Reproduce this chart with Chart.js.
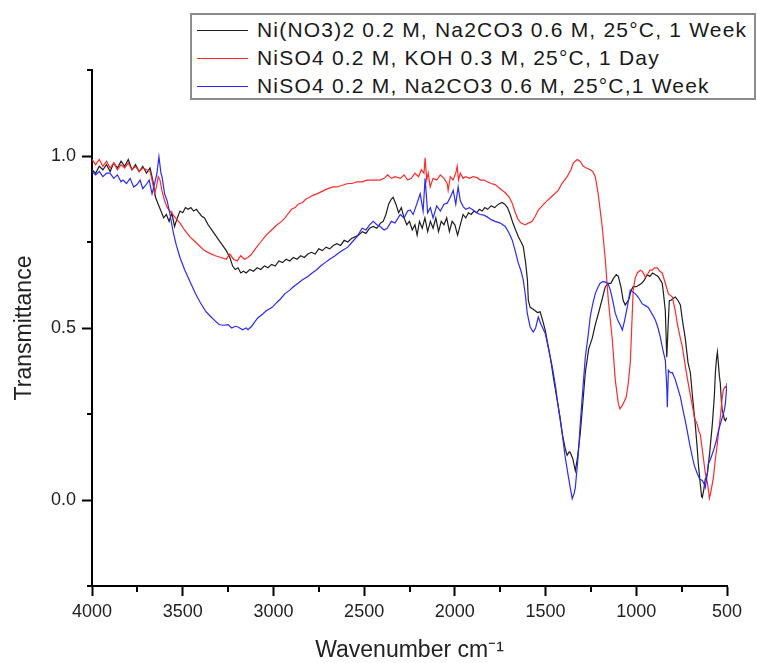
<!DOCTYPE html>
<html>
<head>
<meta charset="utf-8">
<script src="https://cdn.jsdelivr.net/npm/chart.js@4.4.1/dist/chart.umd.min.js"></script>
<style>
  body { margin: 0; background: #fff; }
  #wrap { position: relative; width: 757px; height: 663px; }
  #legend {
    position: absolute; left: 190px; top: 13px; width: 566px; height: 87px;
    box-sizing: border-box; border: 2px solid #8c8c8c; background: #fff;
    font-family: "Liberation Sans", Arial, sans-serif; font-size: 21px; color: #1a1a1a;
  }
  .row { position: absolute; left: 0; height: 28px; line-height: 28px; white-space: nowrap; }
  .swatch { position: absolute; left: 5px; top: 14px; width: 51px; border-top: 1.5px solid; }
  .txt { position: absolute; left: 65px; top: 0; letter-spacing: 1.2px; }
</style>
</head>
<body>
<div id="wrap">
  <canvas id="c" width="757" height="663"></canvas>
  <div id="legend"></div>
</div>
<script>
// Ni(NO3)2 0.2 M, Na2CO3 0.6 M, 25°C, 1 Week
const blackWn = [4000,3980,3960,3940,3920,3900,3880,3860,3840,3820,3800,3780,3760,3740,3720,3700,3680,3665,3650,3635,
  3620,3605,3590,3575,3560,3545,3530,3515,3500,3485,3470,3455,3440,3425,3410,3395,3380,3360,3340,3320,
  3300,3280,3260,3240,3225,3210,3195,3180,3165,3150,3130,3110,3090,3070,3050,3030,3010,2990,2970,2950,
  2930,2910,2890,2870,2850,2830,2810,2790,2770,2750,2730,2710,2690,2670,2650,2630,2610,2590,2570,2550,
  2530,2510,2490,2470,2450,2430,2410,2395,2380,2365,2350,2340,2325,2310,2295,2280,2265,2250,2235,2220,
  2208,2195,2180,2165,2150,2135,2120,2105,2090,2075,2060,2045,2030,2015,2000,1985,1970,1955,1940,1925,
  1910,1895,1880,1865,1850,1835,1820,1800,1780,1760,1740,1725,1710,1695,1680,1665,1650,1635,1623,1610,
  1600,1595,1585,1570,1557,1545,1530,1515,1502,1490,1474,1455,1436,1420,1408,1392,1381,1370,1364,1350,
  1336,1325,1309,1295,1281,1262,1243,1226,1210,1190,1171,1154,1140,1125,1110,1099,1085,1072,1061,1050,
  1040,1028,1017,1000,985,970,955,940,925,910,895,880,868,857,850,840,832,825,818,810,
  800,785,770,757,745,730,715,702,690,675,664,658,648,640,636,628,620,608,595,581,
  570,564,558,553,548,542,537,530,526,520,515,509,500];
const blackT = [0.96,0.95,0.97,0.96,0.975,0.955,0.98,0.965,0.985,0.97,0.99,0.96,0.975,0.955,0.97,0.95,0.965,0.93,0.88,0.86,
  0.84,0.82,0.83,0.81,0.835,0.795,0.82,0.84,0.835,0.85,0.845,0.85,0.84,0.845,0.835,0.825,0.82,0.80,0.785,0.77,
  0.755,0.74,0.725,0.705,0.68,0.67,0.675,0.66,0.665,0.66,0.67,0.665,0.675,0.67,0.68,0.675,0.685,0.68,0.695,0.69,
  0.70,0.695,0.705,0.70,0.71,0.705,0.715,0.72,0.715,0.73,0.725,0.735,0.73,0.74,0.745,0.74,0.755,0.75,0.76,0.765,
  0.77,0.78,0.775,0.79,0.795,0.79,0.805,0.81,0.83,0.86,0.875,0.88,0.86,0.835,0.85,0.82,0.80,0.81,0.785,0.80,
  0.77,0.81,0.79,0.82,0.78,0.81,0.79,0.82,0.78,0.81,0.80,0.82,0.78,0.81,0.80,0.77,0.80,0.83,0.82,0.835,
  0.83,0.84,0.835,0.845,0.84,0.85,0.845,0.855,0.85,0.86,0.865,0.86,0.85,0.83,0.805,0.785,0.765,0.75,0.737,0.69,
  0.64,0.58,0.56,0.555,0.55,0.545,0.547,0.52,0.494,0.46,0.415,0.35,0.29,0.24,0.193,0.15,0.13,0.14,0.138,0.12,
  0.085,0.12,0.193,0.28,0.37,0.44,0.47,0.51,0.54,0.58,0.62,0.63,0.63,0.645,0.655,0.65,0.62,0.58,0.567,0.575,
  0.585,0.61,0.62,0.62,0.625,0.63,0.64,0.655,0.65,0.66,0.655,0.65,0.64,0.63,0.60,0.55,0.415,0.50,0.58,0.58,
  0.585,0.59,0.58,0.567,0.52,0.47,0.40,0.37,0.30,0.22,0.15,0.105,0.05,0.01,0.007,0.03,0.06,0.077,0.14,0.22,
  0.30,0.37,0.41,0.43,0.40,0.36,0.34,0.28,0.26,0.25,0.235,0.23,0.24];

// NiSO4 0.2 M, KOH 0.3 M, 25°C, 1 Day
const redWn = [4000,3980,3960,3940,3920,3900,3880,3860,3840,3820,3800,3780,3760,3740,3720,3700,3680,3665,3655,3645,
  3635,3625,3615,3600,3585,3570,3555,3540,3515,3490,3460,3430,3404,3380,3350,3320,3290,3260,3240,3220,
  3200,3180,3160,3140,3120,3100,3070,3040,3010,2980,2955,2936,2915,2900,2880,2864,2840,2820,2800,2787,
  2760,2740,2720,2700,2671,2650,2620,2590,2566,2540,2510,2484,2450,2412,2390,2370,2350,2330,2300,2280,
  2260,2240,2220,2200,2185,2170,2164,2155,2147,2136,2120,2100,2080,2060,2042,2037,2025,2010,1995,1987,
  1980,1970,1955,1940,1920,1899,1877,1860,1840,1822,1800,1778,1750,1722,1700,1684,1670,1651,1635,1612,
  1595,1574,1557,1540,1510,1485,1460,1430,1410,1381,1360,1347,1325,1310,1292,1275,1254,1240,1226,1210,
  1188,1171,1154,1132,1116,1099,1090,1077,1072,1055,1044,1033,1028,1017,1006,994,978,967,950,939,
  925,912,900,884,870,857,840,823,801,785,774,757,746,730,714,700,686,680,672,664,
  655,647,631,620,608,600,597,590,575,564,553,537,526,520,510,500];
const redT = [0.99,0.975,0.99,0.97,0.985,0.965,0.98,0.96,0.975,0.965,0.98,0.96,0.97,0.955,0.965,0.96,0.955,0.92,0.89,0.91,
  0.94,0.93,0.90,0.87,0.85,0.84,0.83,0.82,0.805,0.785,0.765,0.75,0.737,0.725,0.717,0.71,0.705,0.70,0.715,0.70,
  0.695,0.71,0.70,0.705,0.715,0.73,0.75,0.77,0.785,0.80,0.81,0.82,0.835,0.845,0.85,0.86,0.865,0.875,0.88,0.885,
  0.89,0.895,0.90,0.905,0.91,0.91,0.915,0.92,0.92,0.925,0.925,0.93,0.93,0.93,0.935,0.945,0.935,0.94,0.935,0.945,
  0.93,0.935,0.95,0.94,0.96,0.95,0.995,0.93,0.95,0.91,0.935,0.93,0.945,0.935,0.92,0.90,0.94,0.93,0.95,0.97,
  0.93,0.95,0.935,0.94,0.935,0.94,0.937,0.93,0.93,0.925,0.92,0.917,0.905,0.893,0.88,0.863,0.84,0.815,0.805,0.80,
  0.805,0.81,0.825,0.843,0.86,0.873,0.885,0.90,0.92,0.94,0.96,0.98,0.99,0.985,0.97,0.965,0.96,0.955,0.94,0.89,
  0.795,0.70,0.58,0.465,0.35,0.28,0.265,0.275,0.28,0.30,0.34,0.40,0.465,0.61,0.645,0.66,0.668,0.665,0.648,0.655,
  0.668,0.668,0.675,0.675,0.665,0.66,0.63,0.60,0.59,0.55,0.513,0.47,0.445,0.39,0.34,0.30,0.26,0.24,0.23,0.22,
  0.20,0.19,0.125,0.08,0.05,0.02,0.005,0.02,0.065,0.12,0.165,0.24,0.30,0.32,0.33,0.325];

// NiSO4 0.2 M, Na2CO3 0.6 M, 25°C, 1 Week
const blueWn = [4000,3980,3960,3940,3920,3901,3880,3860,3840,3829,3810,3790,3770,3752,3735,3720,3697,3685,3669,3655,
  3642,3631,3620,3614,3600,3586,3570,3553,3535,3515,3490,3460,3430,3404,3375,3349,3320,3300,3278,3250,
  3230,3210,3195,3170,3150,3140,3120,3100,3085,3060,3040,3007,2980,2960,2936,2910,2890,2864,2840,2810,
  2787,2760,2740,2715,2690,2660,2643,2620,2590,2566,2540,2511,2490,2470,2450,2430,2412,2390,2373,2350,
  2330,2301,2280,2260,2246,2230,2210,2191,2175,2164,2150,2135,2120,2100,2080,2060,2042,2025,2009,1995,
  1982,1970,1954,1940,1920,1899,1880,1860,1840,1822,1800,1778,1750,1722,1700,1684,1665,1651,1635,1623,
  1610,1601,1585,1568,1555,1540,1525,1502,1480,1463,1445,1430,1410,1392,1375,1364,1353,1342,1336,1320,
  1309,1295,1281,1265,1254,1240,1226,1210,1199,1185,1171,1155,1143,1130,1116,1100,1085,1077,1065,1050,
  1033,1020,1006,990,967,950,934,912,895,880,868,855,840,832,829,823,812,801,785,774,
  757,746,730,719,705,691,680,664,650,636,625,620,610,603,590,575,560,548,537,526,
  515,509,500];
const blueT = [0.955,0.945,0.955,0.94,0.95,0.95,0.935,0.945,0.925,0.93,0.92,0.935,0.91,0.917,0.93,0.905,0.92,0.93,0.89,0.92,
  0.95,0.998,0.95,0.94,0.89,0.87,0.83,0.78,0.74,0.705,0.67,0.635,0.60,0.575,0.55,0.535,0.52,0.51,0.508,0.51,
  0.50,0.505,0.503,0.495,0.50,0.495,0.505,0.52,0.53,0.54,0.55,0.56,0.575,0.585,0.60,0.61,0.62,0.63,0.64,0.65,
  0.66,0.67,0.68,0.69,0.70,0.71,0.717,0.725,0.735,0.75,0.765,0.79,0.785,0.80,0.81,0.80,0.795,0.785,0.79,0.81,
  0.805,0.83,0.82,0.84,0.843,0.83,0.86,0.89,0.84,0.935,0.835,0.85,0.82,0.855,0.84,0.86,0.863,0.88,0.90,0.86,
  0.91,0.87,0.853,0.845,0.85,0.843,0.835,0.83,0.828,0.823,0.815,0.81,0.805,0.795,0.775,0.756,0.72,0.69,0.665,0.64,
  0.59,0.543,0.503,0.488,0.50,0.532,0.51,0.485,0.43,0.387,0.33,0.27,0.20,0.125,0.07,0.036,0.004,0.02,0.036,0.13,
  0.22,0.32,0.415,0.48,0.532,0.57,0.60,0.62,0.63,0.635,0.634,0.628,0.61,0.58,0.543,0.52,0.505,0.494,0.52,0.56,
  0.61,0.605,0.60,0.59,0.57,0.565,0.56,0.54,0.523,0.50,0.474,0.44,0.406,0.33,0.27,0.377,0.37,0.37,0.35,0.33,
  0.30,0.27,0.23,0.20,0.16,0.125,0.10,0.077,0.06,0.057,0.045,0.036,0.07,0.105,0.12,0.143,0.17,0.20,0.22,0.24,
  0.26,0.28,0.34];

const seriesLabels = [
  'Ni(NO3)2 0.2 M, Na2CO3 0.6 M, 25°C, 1 Week',
  'NiSO4 0.2 M, KOH 0.3 M, 25°C, 1 Day',
  'NiSO4 0.2 M, Na2CO3 0.6 M, 25°C,1 Week'
];
const seriesColors = ['#1e1e1e', '#ff2a2a', '#2a2aff'];

const xMajor = [500, 1000, 1500, 2000, 2500, 3000, 3500, 4000];
const xMinor = [750, 1250, 1750, 2250, 2750, 3250, 3750];
const yMajor = [0, 0.5, 1.0];
const yMinor = [-0.25, 0.25, 0.75, 1.25];

const FONT = '"Liberation Sans", Arial, sans-serif';
const INK = '#222';

function toPoints(wn, t) {
  return wn.map((x, i) => ({ x, y: t[i] }));
}

// HTML legend with a framed box like the original
const legendEl = document.getElementById('legend');
seriesLabels.forEach((label, i) => {
  const row = document.createElement('div');
  row.className = 'row';
  row.style.top = (1 + i * 28) + 'px';
  row.innerHTML = `<div class="swatch" style="border-color:${seriesColors[i]}"></div><span class="txt"></span>`;
  row.querySelector('.txt').textContent = label;
  legendEl.appendChild(row);
});

// Short minor ticks between the labelled ones, placed through the scales
const minorTicks = {
  id: 'minorTicks',
  afterDraw(chart) {
    const { ctx, chartArea } = chart;
    const { x, y } = chart.scales;
    ctx.save();
    ctx.strokeStyle = '#000';
    ctx.lineWidth = 2;
    ctx.beginPath();
    xMinor.forEach((v) => {
      const px = Math.round(x.getPixelForValue(v));
      ctx.moveTo(px, chartArea.bottom);
      ctx.lineTo(px, chartArea.bottom + 6);
    });
    yMinor.forEach((v) => {
      const py = Math.round(y.getPixelForValue(v));
      ctx.moveTo(chartArea.left, py);
      ctx.lineTo(chartArea.left - 5, py);
    });
    ctx.stroke();
    ctx.restore();
  },
};

new Chart(document.getElementById('c'), {
  type: 'line',
  data: {
    datasets: [
      { label: seriesLabels[0], data: toPoints(blackWn, blackT), borderColor: seriesColors[0], order: 3 },
      { label: seriesLabels[1], data: toPoints(redWn, redT), borderColor: seriesColors[1], order: 2 },
      { label: seriesLabels[2], data: toPoints(blueWn, blueT), borderColor: seriesColors[2], order: 1 },
    ],
  },
  plugins: [minorTicks],
  options: {
    responsive: false,
    animation: false,
    layout: { padding: { top: 70, right: 30, left: 0, bottom: 0 } },
    elements: {
      point: { radius: 0 },
      line: { borderWidth: 1.2, tension: 0, fill: false },
    },
    plugins: { legend: { display: false }, tooltip: { enabled: false } },
    scales: {
      x: {
        type: 'linear',
        position: 'bottom',
        min: 500,
        max: 4000,
        reverse: true,
        afterBuildTicks(scale) { scale.ticks = xMajor.map((v) => ({ value: v })); },
        afterFit(scale) { scale.height = 77; },
        ticks: {
          color: INK,
          font: { family: FONT, size: 18 },
          padding: 5,
          maxRotation: 0,
          autoSkip: false,
          callback(value) { return String(value); },
        },
        grid: { drawOnChartArea: false, tickLength: 10, tickWidth: 2, tickColor: '#000' },
        border: { color: '#000', width: 2 },
        title: {
          display: true,
          text: 'Wavenumber cm⁻¹',
          color: INK,
          font: { family: FONT, size: 23, lineHeight: 1 },
          padding: { top: 0, bottom: 1 },
        },
      },
      y: {
        type: 'linear',
        position: 'left',
        min: -0.25,
        max: 1.25,
        afterBuildTicks(scale) { scale.ticks = yMajor.map((v) => ({ value: v })); },
        afterFit(scale) { scale.width = 92; },
        ticks: {
          color: INK,
          font: { family: FONT, size: 18 },
          padding: 6,
          callback(value) { return Number(value).toFixed(1); },
        },
        grid: { drawOnChartArea: false, tickLength: 10, tickWidth: 2, tickColor: '#000' },
        border: { color: '#000', width: 2 },
        title: {
          display: true,
          text: 'Transmittance',
          color: INK,
          font: { family: FONT, size: 23, lineHeight: 1 },
          padding: { top: 13, bottom: 0 },
        },
      },
    },
  },
});
</script>
</body>
</html>
